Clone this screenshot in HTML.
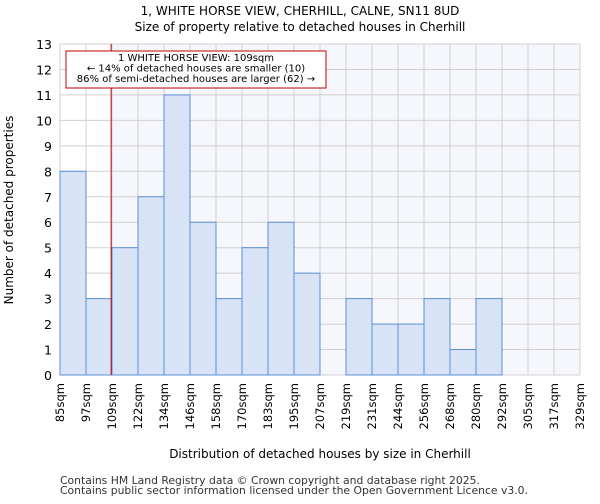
<!DOCTYPE html>
<html><head><meta charset="utf-8"><style>
body{margin:0;background:#fff;font-family:"DejaVu Sans","Liberation Sans",sans-serif;}
</style></head><body>
<svg id="chart" width="600" height="500" xmlns="http://www.w3.org/2000/svg" font-family="DejaVu Sans, Liberation Sans, sans-serif">
<text x="300" y="15" text-anchor="middle" font-size="12">1, WHITE HORSE VIEW, CHERHILL, CALNE, SN11 8UD</text>
<text x="300" y="31" text-anchor="middle" font-size="12">Size of property relative to detached houses in Cherhill</text>
<g id="plot"></g>
<text x="320" y="458" text-anchor="middle" font-size="12">Distribution of detached houses by size in Cherhill</text>
<text transform="translate(13,210) rotate(-90)" text-anchor="middle" font-size="12">Number of detached properties</text>
<text x="60" y="484" font-size="10.8" fill="#333">Contains HM Land Registry data © Crown copyright and database right 2025.</text>
<text x="60" y="494" font-size="10.8" fill="#333">Contains public sector information licensed under the Open Government Licence v3.0.</text>
</svg>
<script>
const categories=["85sqm","97sqm","109sqm","122sqm","134sqm","146sqm","158sqm","170sqm","183sqm","195sqm","207sqm","219sqm","231sqm","244sqm","256sqm","268sqm","280sqm","292sqm","305sqm","317sqm","329sqm"];
const counts=[8,3,5,7,11,6,3,5,6,4,0,3,2,2,3,1,3,0,0,0];
const yTicks=[0,1,2,3,4,5,6,7,8,9,10,11,12,13];
const markerValue=109;
const binStart=85, binWidth=12.2;
const X0=60,X1=580,Y0=375,Y1=44,YMAX=13;
const bw=(X1-X0)/counts.length;
const xi=i=>X0+i*bw;
const xv=v=>X0+(v-binStart)/binWidth*bw;
const y=v=>Y0-(v/YMAX)*(Y0-Y1);
const NS="http://www.w3.org/2000/svg";
const g=document.getElementById('plot');
function el(t,a){const e=document.createElementNS(NS,t);for(const k in a)e.setAttribute(k,a[k]);g.appendChild(e);return e;}
const mx=xv(markerValue);
let bg=el('rect',{x:mx,y:Y1,width:X1-mx,height:Y0-Y1,fill:'#f5f7fd'});


for(let i=0;i<=counts.length;i++){let l=el('line',{x1:xi(i),x2:xi(i),y1:Y1,y2:Y0,stroke:'#d0d0d0'});

}
yTicks.forEach(t=>{let l=el('line',{x1:X0,x2:X1,y1:y(t),y2:y(t),stroke:'#d0d0d0'});


let tx=el('text',{x:X0-8,y:y(t)+5,'text-anchor':'end','font-size':12.5});tx.textContent=t;

});
counts.forEach((c,i)=>{if(c<=0)return;let r=el('rect',{x:xi(i),y:y(c),width:bw,height:y(0)-y(c),fill:'#d8e3f5',stroke:'#5b8fd6','stroke-width':1});

});
categories.forEach((c,i)=>{let t=el('text',{'font-size':11.5,'text-anchor':'end',transform:`translate(${xi(i)+4},${Y0+8}) rotate(-90)`});t.textContent=c;

});
let ml=el('line',{x1:mx,x2:mx,y1:Y1,y2:Y0,stroke:'#c00000','stroke-width':1});


let box=el('rect',{x:66,y:51,width:260,height:37,fill:'#fff',stroke:'#c00000'});


["1 WHITE HORSE VIEW: 109sqm","← 14% of detached houses are smaller (10)","86% of semi-detached houses are larger (62) →"].forEach((s,i)=>{let t=el('text',{x:196,y:61+i*10.5,'text-anchor':'middle','font-size':10});t.textContent=s;

});
</script>
</body></html>
